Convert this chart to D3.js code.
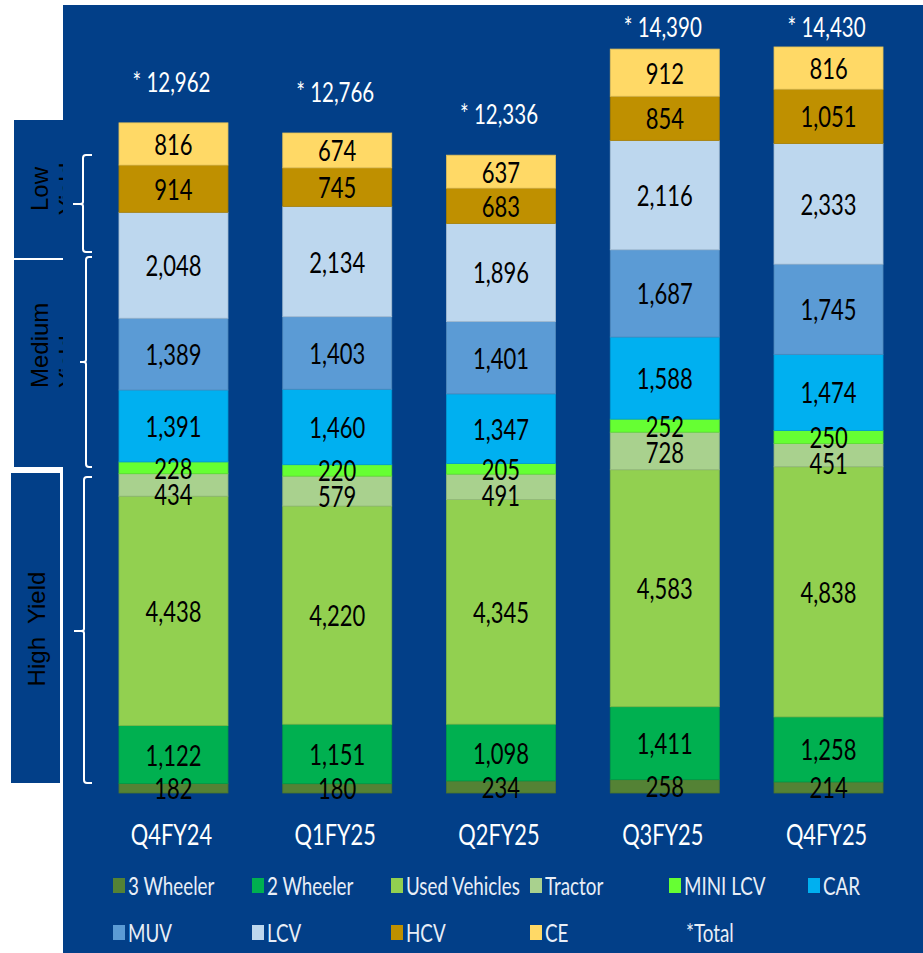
<!DOCTYPE html>
<html>
<head>
<meta charset="utf-8">
<script src="https://cdn.jsdelivr.net/npm/d3@7"></script>
<style>
  html, body { margin: 0; padding: 0; background: #ffffff; }
  svg { display: block; }
</style>
</head>
<body>
<script>
// Quarters along the x axis
const quarters = ["Q4FY24", "Q1FY25", "Q2FY25", "Q3FY25", "Q4FY25"];

// Stack order, bottom to top
const segments = ["3 Wheeler", "2 Wheeler", "Used Vehicles", "Tractor", "MINI LCV", "CAR", "MUV", "LCV", "HCV", "CE"];
const segmentColors = ["#548235", "#00B050", "#92D050", "#A9D18E", "#66FF33", "#00B0F0", "#5B9BD5", "#BDD7EE", "#BF9000", "#FFD966"];

// Values per segment, one entry per quarter
const threeWheeler = [182, 180, 234, 258, 214];
const twoWheeler   = [1122, 1151, 1098, 1411, 1258];
const usedVehicles = [4438, 4220, 4345, 4583, 4838];
const tractor      = [434, 579, 491, 728, 451];
const miniLcv      = [228, 220, 205, 252, 250];
const car          = [1391, 1460, 1347, 1588, 1474];
const muv          = [1389, 1403, 1401, 1687, 1745];
const lcv          = [2048, 2134, 1896, 2116, 2333];
const hcv          = [914, 745, 683, 854, 1051];
const ce           = [816, 674, 637, 912, 816];

// Reported totals
const totals = [12962, 12766, 12336, 14390, 14430];

// Yield group captions on the left
const yieldGroups = ["Low", "Medium", "High"];

const seriesValues = [threeWheeler, twoWheeler, usedVehicles, tractor, miniLcv, car, muv, lcv, hcv, ce];
const table = quarters.map((q, i) => {
  const row = { quarter: q };
  segments.forEach((s, k) => { row[s] = seriesValues[k][i]; });
  return row;
});

const W = 923, H = 953;
const BG = "#023F88";
const SY = 1.3;                // vertical stretch of the Calibri-style text
const fmt = d3.format(",");

const svg = d3.select("body").append("svg").attr("width", W).attr("height", H);

// ---- Yield group boxes at the left edge ----
const leftBoxes = [
  { x: 14, y: 120, w: 49, h: 138 },
  { x: 14, y: 260, w: 49, h: 207 },
  { x: 11, y: 473, w: 49, h: 310 }
];
svg.selectAll("rect.ybox").data(leftBoxes).join("rect")
  .attr("class", "ybox")
  .attr("x", d => d.x).attr("y", d => d.y)
  .attr("width", d => d.w).attr("height", d => d.h)
  .attr("fill", BG);

const leftFont = "'Liberation Sans', Arial, sans-serif";
function rotText(x, y, str, anchor) {
  svg.append("text")
    .attr("transform", `translate(${x},${y}) rotate(-90)`)
    .attr("text-anchor", anchor)
    .attr("font-family", leftFont)
    .attr("font-size", 24)
    .attr("fill", "#000")
    .style("white-space", "pre")
    .text(str);
}
rotText(48, 189, yieldGroups[0], "middle");
rotText(75.5, 189, "Yield", "middle");
rotText(48, 388, yieldGroups[1], "start");
rotText(75.5, 388, "Yield", "start");
rotText(44.5, 629, yieldGroups[2] + "  Yield", "middle");

// ---- Main panel ----
svg.append("rect")
  .attr("x", 63).attr("y", 5)
  .attr("width", W - 63).attr("height", H - 5)
  .attr("fill", BG);

// Brackets beside the yield boxes
const brackets = [
  { top: 155, mid: 204, bottom: 252, spine: 83, tip: 73 },
  { top: 257, mid: 362, bottom: 467, spine: 86, tip: 80 },
  { top: 477, mid: 631, bottom: 783, spine: 84, tip: 74 }
];
svg.selectAll("path.bracket").data(brackets).join("path")
  .attr("class", "bracket")
  .attr("fill", "none")
  .attr("stroke", "#ffffff")
  .attr("stroke-width", 2)
  .attr("d", b => {
    const s = b.spine, e = 92;
    return `M${e},${b.top} H${s + 3} Q${s},${b.top} ${s},${b.top + 3} V${b.mid - 2} Q${s},${b.mid} ${s - 3},${b.mid} H${b.tip}` +
           ` M${s - 3},${b.mid} Q${s},${b.mid} ${s},${b.mid + 2} V${b.bottom - 3} Q${s},${b.bottom} ${s + 3},${b.bottom} H${e}`;
  });

// ---- Scales ----
const x = d3.scaleBand().domain(quarters)
  .range([91.6, 910.4]).paddingInner(0.3344).paddingOuter(0.1672);
const y = d3.scaleLinear().domain([0, 15000]).range([793, 17.5]);
const color = d3.scaleOrdinal().domain(segments).range(segmentColors);

const stacked = d3.stack().keys(segments)(table);

// ---- Bars ----
const layers = svg.append("g").selectAll("g").data(stacked).join("g")
  .attr("fill", d => color(d.key));
layers.selectAll("rect").data(d => d).join("rect")
  .attr("x", d => x(d.data.quarter))
  .attr("width", x.bandwidth())
  .attr("y", d => y(d[1]))
  .attr("height", d => y(d[0]) - y(d[1]));
// faint edges between segments
layers.attr("stroke", d => d3.color(color(d.key)).darker(0.35)).attr("stroke-width", 0.8);

// stretched text helper
const textFont = "Lato, 'Open Sans', sans-serif";
function sText(parent, tx, ty, str, size, fill, anchor) {
  const g = parent.append("g").attr("transform", `translate(${tx},${ty}) scale(1,${SY})`);
  g.append("text")
    .attr("text-anchor", anchor || "middle")
    .attr("font-family", textFont)
    .attr("font-size", size)
    .attr("fill", fill)
    .text(str);
  return g;
}

// ---- Segment value labels (nudged apart where segments are thin) ----
const labelLayer = svg.append("g");
const minGap = 26;
quarters.forEach((q, i) => {
  const centers = stacked.map(layer => {
    const d = layer[i];
    return { value: d[1] - d[0], c: (y(d[0]) + y(d[1])) / 2 + 1 };
  });
  // walk bottom -> top; push lower label down if two labels crowd each other
  for (let k = 1; k < centers.length; k++) {
    const lower = centers[k - 1], upper = centers[k];
    if (lower.c - upper.c < minGap) lower.c = upper.c + minGap;
  }
  centers.forEach(cn => {
    sText(labelLayer, x(q) + x.bandwidth() / 2, cn.c + 10, fmt(cn.value), 22, "#000");
  });
});

// ---- Totals above the bars ----
quarters.forEach((q, i) => {
  const base = Math.max(y(totals[i]) - 31, 37);
  sText(svg, x(q) + x.bandwidth() / 2 - 2, base, "* " + fmt(totals[i]), 20.5, "#ffffff");
});

// ---- Category axis labels ----
const xAxis = svg.append("g");
quarters.forEach(q => {
  sText(xAxis, x(q) + x.bandwidth() / 2 - 2, 845, q, 21.8, "#ffffff");
});

// ---- Legend ----
const legendItems = segments.map((s, k) => ({ name: s, color: segmentColors[k] }))
  .concat([{ name: "*Total", color: null }]);
const legend = svg.append("g");
legendItems.forEach((item, k) => {
  const col = k % 6, row = Math.floor(k / 6);
  const lx = 113 + col * 139;
  const ly = 878 + row * 47;
  if (item.color) {
    legend.append("rect")
      .attr("x", lx).attr("y", ly)
      .attr("width", 12).attr("height", 15)
      .attr("fill", item.color);
  }
  sText(legend, item.color ? lx + 15 : lx + 17, ly + 17, item.name, 18.8, "#E8EEF7", "start");
});
</script>
</body>
</html>
